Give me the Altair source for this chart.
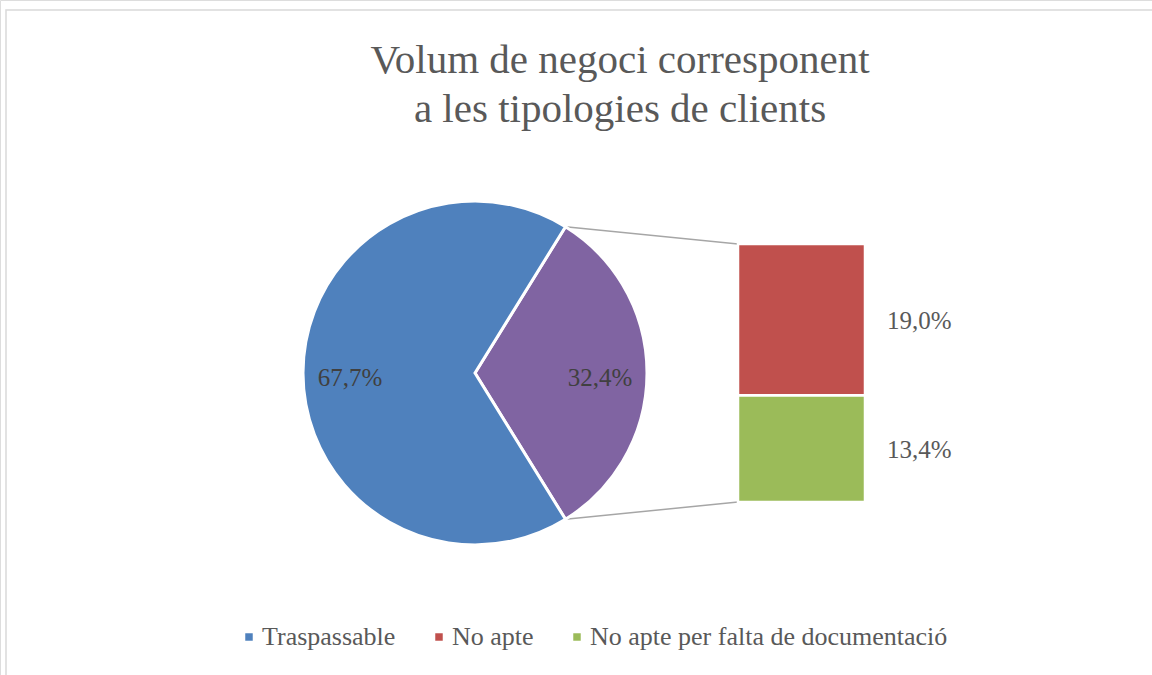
import math
import altair as alt
import pandas as pd

# ---------------- data ----------------
title_lines = ["Volum de negoci corresponent", "a les tipologies de clients"]

pie_categories = ["Altres", "Traspassable"]
pie_values = [32.4, 67.7]
pie_labels = ["32,4%", "67,7%"]

bar_categories = ["No apte per falta de documentació", "No apte"]
bar_values = [13.4, 19.0]
bar_labels = ["13,4%", "19,0%"]

legend_categories = ["Traspassable", "No apte", "No apte per falta de documentació"]
color_domain = ["Traspassable", "No apte", "No apte per falta de documentació", "Altres"]
color_range = ["#4F81BD", "#C0504D", "#9BBB59", "#8064A2"]

# ---------------- layout ----------------
FONT = "Liberation Serif"
CX, CY, R = 475, 373, 172
BAR_LEFT, BAR_RIGHT, BAR_TOP, BAR_BOTTOM = 738, 865, 244, 502

frac = pie_values[0] / sum(pie_values)
half = math.pi * frac
start = math.pi / 2 - half

color_scale = alt.Scale(domain=color_domain, range=color_range)
legend = alt.Legend(
    values=legend_categories, orient="none", legendX=236, legendY=624,
    direction="horizontal", columns=3, title=None, symbolType="square",
    symbolSize=56, symbolStrokeWidth=0, labelFont=FONT, labelFontSize=26,
    labelColor="#595959", columnPadding=30, labelOffset=0, padding=0,
    labelLimit=0,
)
color_enc = alt.Color("cat:N", scale=color_scale, legend=legend)

pie_df = pd.DataFrame({"cat": pie_categories, "value": pie_values,
                       "label": pie_labels, "ord": [0, 1]})
theta = alt.Theta("value:Q", stack=True,
                  scale=alt.Scale(range=[start, start + 2 * math.pi]))

pie = alt.Chart(pie_df).mark_arc(outerRadius=R, stroke="white", strokeWidth=3).encode(
    theta=theta, color=color_enc, order=alt.Order("ord:Q"), detail="cat:N",
    x=alt.value(CX), y=alt.value(CY),
)
pie_text = alt.Chart(pie_df).mark_text(
    radius=125, font=FONT, fontSize=25, color="#404040", dy=5
).encode(
    theta=theta, order=alt.Order("ord:Q"), detail="cat:N", text="label:N",
    x=alt.value(CX), y=alt.value(CY),
)

bar_df = pd.DataFrame({"cat": bar_categories, "value": bar_values,
                       "label": bar_labels, "ord": [0, 1]})
yscale = alt.Scale(domain=[0, sum(bar_values)], range=[BAR_BOTTOM, BAR_TOP])

bar_base = alt.Chart(bar_df).transform_window(
    cum="sum(value)", sort=[alt.SortField("ord")], frame=[None, 0]
).transform_calculate(
    y0="datum.cum - datum.value",
    mid="datum.cum - datum.value / 2",
)

bars = bar_base.mark_rect(stroke="white", strokeWidth=2.5).encode(
    x=alt.value(BAR_LEFT), x2=alt.value(BAR_RIGHT),
    y=alt.Y("y0:Q", scale=yscale, axis=None), y2="cum:Q",
    color=color_enc,
)
bar_text = bar_base.mark_text(align="left", baseline="middle", font=FONT,
                              fontSize=25, color="#595959", dy=1).encode(
    x=alt.value(887),
    y=alt.Y("mid:Q", scale=yscale, axis=None),
    text="label:N",
)

# connector lines from pie edge to bar corners
px = CX + R * math.cos(half)
conn_df = pd.DataFrame({
    "x": [px, px],
    "y": [CY - R * math.sin(half), CY + R * math.sin(half)],
    "x2": [BAR_LEFT, BAR_LEFT],
    "y2": [BAR_TOP, BAR_BOTTOM],
})
rules = alt.Chart(conn_df).mark_rule(color="#A6A6A6", strokeWidth=1.5).encode(
    x=alt.X("x:Q", scale=None), y=alt.Y("y:Q", scale=None),
    x2="x2:Q", y2="y2:Q",
)

border = alt.Chart(pd.DataFrame({"a": [0]})).mark_rect(
    fillOpacity=0, stroke="#D9D9D9", strokeWidth=1.5
).encode(x=alt.value(6), y=alt.value(10), x2=alt.value(1200), y2=alt.value(720))

title_df = pd.DataFrame({"t": ["\n".join(title_lines)]})
title = alt.Chart(title_df).mark_text(
    lineBreak="\n", font=FONT, fontSize=41, color="#595959", align="center",
    baseline="alphabetic", lineHeight=49,
).encode(text="t:N", x=alt.value(620), y=alt.value(73))

chart = alt.layer(border, rules, pie, pie_text, bars, bar_text, title).resolve_scale(
    x="independent", y="independent"
).properties(
    width=1152, height=675, padding=0,
    autosize=alt.AutoSizeParams(type="none"),
).configure_view(stroke=None).configure(background="white")

chart.save("out.html", embed_options={"renderer": "svg", "actions": False})
